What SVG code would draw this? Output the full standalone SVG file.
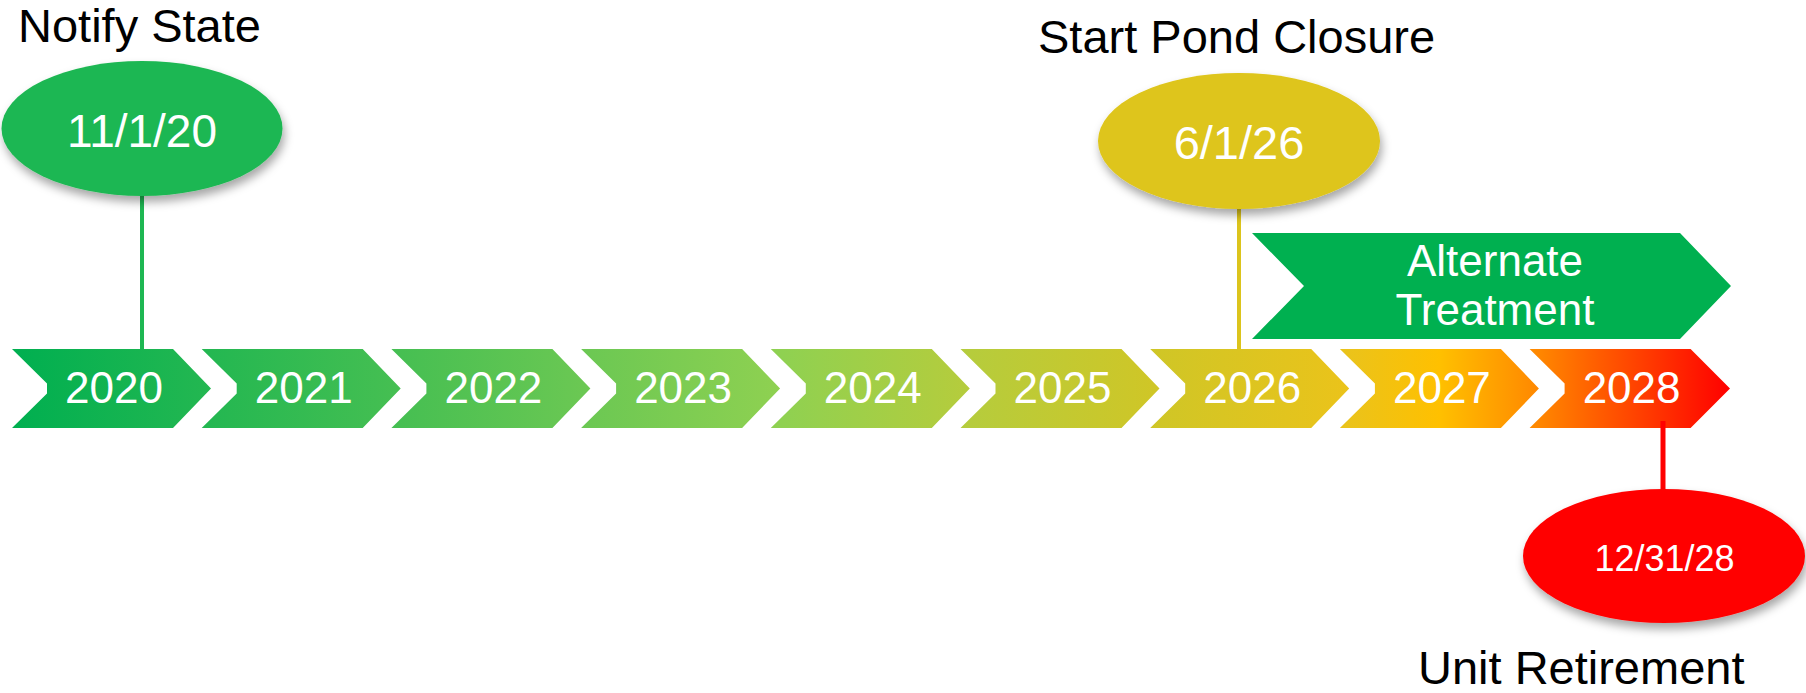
<svg xmlns="http://www.w3.org/2000/svg" width="1806" height="693" viewBox="0 0 1806 693">
<defs>
<linearGradient id="band" gradientUnits="userSpaceOnUse" x1="12" y1="0" x2="1730" y2="0">
<stop offset="0" stop-color="#00AF50"/>
<stop offset="0.226" stop-color="#46BF52"/>
<stop offset="0.336" stop-color="#6CC853"/>
<stop offset="0.448" stop-color="#8FD151"/>
<stop offset="0.558" stop-color="#B6CC3C"/>
<stop offset="0.668" stop-color="#D0C626"/>
<stop offset="0.779" stop-color="#EBC31A"/>
<stop offset="0.831" stop-color="#FFC000"/>
<stop offset="0.886" stop-color="#FF8A00"/>
<stop offset="1" stop-color="#FF0000"/>
</linearGradient>
<filter id="shadow" x="-20%" y="-20%" width="140%" height="150%">
<feDropShadow dx="2" dy="6" stdDeviation="5" flood-color="#000" flood-opacity="0.35"/>
</filter>
</defs>
<style>
text{font-family:"Liberation Sans",Arial,sans-serif}
.title{font-size:47px;fill:#000}
.year{font-size:44px;fill:#fff;text-anchor:middle}
.date{fill:#fff;text-anchor:middle}
.band{fill:url(#band)}
</style>
<g id="timeline">
<g id="y2020"><polygon class="band" points="12,349 173,349 211,388.5 173,428 12,428 47,393.5 47,383.5"/><text class="year" x="114" y="403">2020</text></g>
<g id="y2021"><polygon class="band" points="201.7,349 362.7,349 400.7,388.5 362.7,428 201.7,428 236.7,393.5 236.7,383.5"/><text class="year" x="303.7" y="403">2021</text></g>
<g id="y2022"><polygon class="band" points="391.4,349 552.4,349 590.4,388.5 552.4,428 391.4,428 426.4,393.5 426.4,383.5"/><text class="year" x="493.4" y="403">2022</text></g>
<g id="y2023"><polygon class="band" points="581.1,349 742.1,349 780.1,388.5 742.1,428 581.1,428 616.1,393.5 616.1,383.5"/><text class="year" x="683.1" y="403">2023</text></g>
<g id="y2024"><polygon class="band" points="770.8,349 931.8,349 969.8,388.5 931.8,428 770.8,428 805.8,393.5 805.8,383.5"/><text class="year" x="872.8" y="403">2024</text></g>
<g id="y2025"><polygon class="band" points="960.5,349 1121.5,349 1159.5,388.5 1121.5,428 960.5,428 995.5,393.5 995.5,383.5"/><text class="year" x="1062.5" y="403">2025</text></g>
<g id="y2026"><polygon class="band" points="1150.2,349 1311.2,349 1349.2,388.5 1311.2,428 1150.2,428 1185.2,393.5 1185.2,383.5"/><text class="year" x="1252.2" y="403">2026</text></g>
<g id="y2027"><polygon class="band" points="1339.9,349 1500.9,349 1538.9,388.5 1500.9,428 1339.9,428 1374.9,393.5 1374.9,383.5"/><text class="year" x="1441.9" y="403">2027</text></g>
<g id="y2028"><polygon class="band" points="1529.6,349 1690.6,349 1730,388.5 1690.6,428 1529.6,428 1564.6,393.5 1564.6,383.5"/><text class="year" x="1631.6" y="403">2028</text></g>
</g>
<g id="alternate-treatment">
<polygon points="1252,233 1680,233 1731,286 1680,339 1252,339 1304,286" fill="#00B050"/>
<text x="1495" y="276" font-size="44" fill="#fff" text-anchor="middle">Alternate</text>
<text x="1495" y="325" font-size="44" fill="#fff" text-anchor="middle">Treatment</text>
</g>
<g id="connectors">
<line x1="142" y1="190" x2="142" y2="349" stroke="#1EB752" stroke-width="4"/>
<line x1="1239" y1="200" x2="1239" y2="349" stroke="#DCC41C" stroke-width="4"/>
<line x1="1663" y1="421" x2="1663" y2="495" stroke="#FF0000" stroke-width="5"/>
</g>
<g id="notify-state">
<text class="title" x="18" y="42">Notify State</text>
<ellipse cx="142" cy="128.5" rx="140.5" ry="67.5" fill="#1EB752" filter="url(#shadow)"/>
<text class="date" x="142" y="147" font-size="46">11/1/20</text>
</g>
<g id="start-pond-closure">
<text class="title" x="1038" y="53">Start Pond Closure</text>
<ellipse cx="1239" cy="141" rx="141" ry="68" fill="#DEC51A" filter="url(#shadow)"/>
<text class="date" x="1239" y="159" font-size="47">6/1/26</text>
</g>
<g id="unit-retirement">
<ellipse cx="1664" cy="556" rx="141" ry="67" fill="#FF0000" filter="url(#shadow)"/>
<text class="date" x="1664.5" y="571" font-size="36">12/31/28</text>
<text class="title" x="1418" y="684">Unit Retirement</text>
</g>
</svg>
